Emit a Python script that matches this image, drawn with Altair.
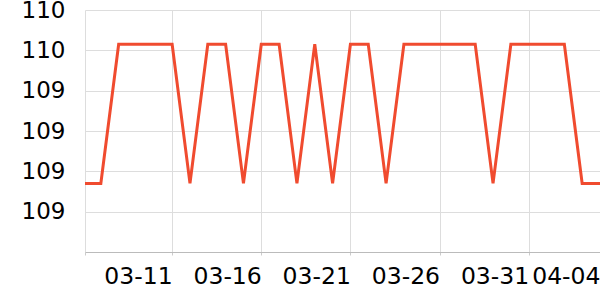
import altair as alt
import pandas as pd

dates = pd.date_range("2019-03-06", "2019-04-04", freq="D").strftime("%Y-%m-%d").tolist()
HIGH = 110.03
LOW = 109.34
levels = ["L", "L", "H", "H", "H", "H", "L", "H", "H", "L",
          "H", "H", "L", "H", "L", "H", "H", "L", "H", "H",
          "H", "H", "H", "L", "H", "H", "H", "H", "L", "L"]
values = [HIGH if s == "H" else LOW for s in levels]

tick_dates = ["2019-03-11", "2019-03-16", "2019-03-21", "2019-03-26", "2019-03-31", "2019-04-04"]
y_ticks = [109.2, 109.4, 109.6, 109.8, 110.0, 110.2]

df = pd.DataFrame({"date": dates, "value": values})

def dt(s, hours=0, minutes=0):
    y, m, d = [int(p) for p in s.split("-")]
    return alt.DateTime(year=y, month=m, date=d, hours=hours, minutes=minutes, utc=True)

x_values = [dt("2019-03-06", 2, 41)] + [dt(s) for s in tick_dates]

chart = alt.Chart(df).mark_line(
    color="#f04b2f", strokeWidth=3, clip=True
).encode(
    x=alt.X("date:T",
            scale=alt.Scale(type="utc", domain=[dt("2019-03-06", 2, 41), dt("2019-04-04")]),
            axis=alt.Axis(values=x_values,
                          labelExpr="datum.value < datetime(2019, 2, 7) ? '' : utcFormat(datum.value, '%m-%d')",
                          title=None, labelAlign="right", labelBaseline="top",
                          labelFont="DejaVu Sans", labelFontSize=23.5, labelColor="#000",
                          labelPadding=9, tickSize=3, tickColor="#ccc",
                          domainColor="#bbb", gridColor="#ddd", grid=True,
                          labelOverlap=False, labelFlush=False, labelBound=False)),
    y=alt.Y("value:Q",
            scale=alt.Scale(domain=[109.0, 110.2], zero=False, nice=False),
            axis=alt.Axis(values=y_ticks, labelExpr="floor(datum.value + 0.000001)",
                          title=None, ticks=False, domain=False,
                          labelFont="DejaVu Sans", labelFontSize=23, labelColor="#000",
                          labelPadding=20, gridColor="#ddd",
                          labelOverlap=False, labelFlush=False, labelBound=False)),
).properties(
    width=515, height=242,
    autosize=alt.AutoSizeParams(type="none"),
    padding={"left": 85, "top": 10, "right": 0, "bottom": 48},
).configure_view(stroke=None)

chart.save("out.html", embed_options={"renderer": "svg", "actions": False})
